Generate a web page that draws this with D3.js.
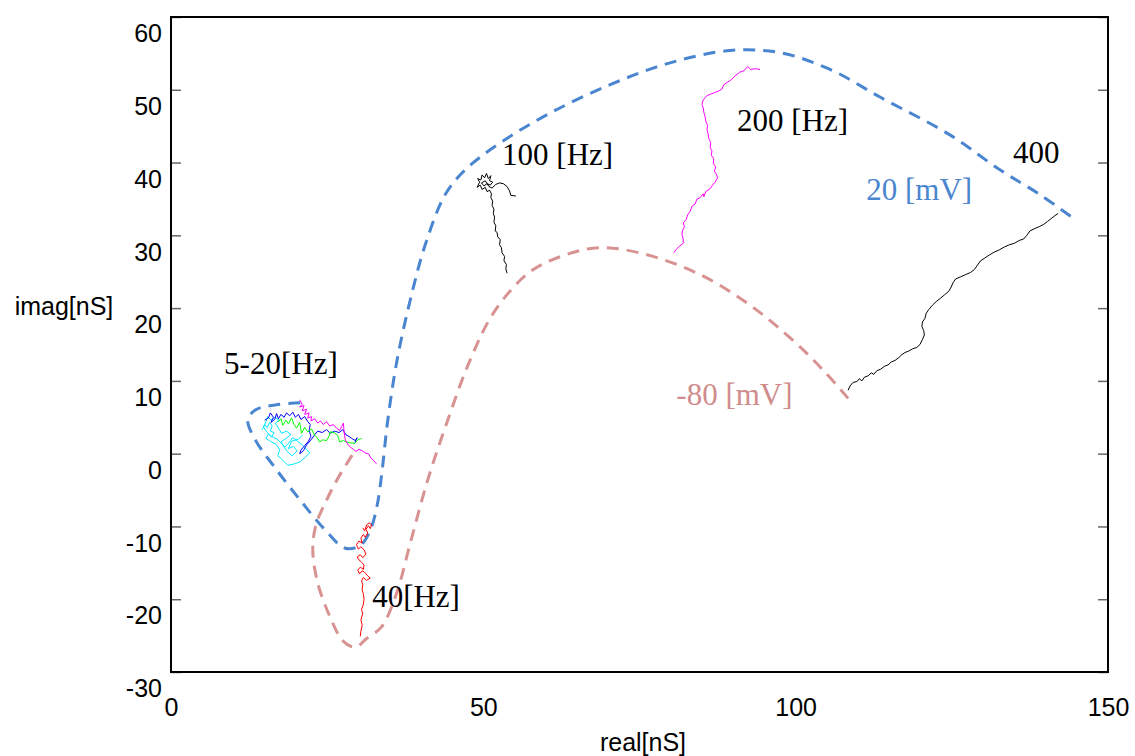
<!DOCTYPE html>
<html>
<head>
<meta charset="utf-8">
<script src="https://cdn.jsdelivr.net/npm/d3@7/dist/d3.min.js"></script>
<style>
  html, body { margin: 0; padding: 0; background: #fff; }
  svg { display: block; }
</style>
</head>
<body>
<svg id="chart" width="1135" height="756"></svg>
<script>
// Axis ticks
const xTicks = [0, 50, 100, 150];
const yTicks = [60, 50, 40, 30, 20, 10, 0, -10, -20, -30];

// Admittance loci (real, imag) in nS, dashed guide curves
const locus20mV = [
  [20.7, 7.0], [16.7, 6.7], [13.5, 6.0], [12.3, 4.6], [13.5, 1.9], [16.7, -2.0],
  [20.7, -6.4], [24.7, -10.5], [27.9, -13.0], [30.3, -12.6], [31.9, -10.5],
  [33.0, -7.1], [33.8, -2.3], [34.7, 4.6], [36.2, 12.9], [38.3, 21.1], [40.7, 28.7],
  [43.9, 35.6], [47.1, 39.0], [52.7, 42.7], [60.7, 46.8], [70.3, 50.7], [79.9, 53.7],
  [89.5, 55.4], [97.5, 55.1], [105.5, 52.8], [113.5, 49.0], [124.7, 43.8],
  [132.7, 39.0], [139.1, 35.6], [144.2, 32.5]
];
const locusMinus80mV = [
  [29.0, -0.2], [26.7, -3.4], [24.9, -6.4], [23.2, -9.8], [22.7, -13.3], [23.5, -17.8],
  [25.5, -22.5], [27.5, -25.7], [29.5, -26.6], [31.3, -25.4], [33.7, -23.8],
  [36.1, -19.2], [38.3, -12.3], [41.1, -3.6], [44.3, 4.6], [47.9, 12.9], [51.9, 19.7],
  [57.5, 25.0], [63.1, 27.3], [68.7, 28.3], [75.9, 27.4], [84.7, 24.6], [92.7, 20.4],
  [99.9, 15.3], [104.7, 11.2], [108.4, 7.6]
];

// Measured traces
const trace5to20Cyan = [
  [14.6, 3.3], [15.0, 4.0], [15.4, 3.6], [15.8, 4.3], [16.2, 3.8], [15.9, 3.1], [16.5, 2.9],
  [16.1, 2.3], [15.6, 2.7], [15.2, 2.1], [15.9, 1.7], [16.8, 1.3], [17.4, 0.6], [17.1, -0.3],
  [17.9, -0.9], [18.7, -1.6], [19.8, -1.4], [20.7, -1.1], [21.6, -0.4], [22.2, 0.1],
  [21.5, 0.8], [20.9, 1.3], [20.1, 1.8], [19.5, 2.2], [18.9, 1.5], [18.2, 0.9], [17.6, 1.6],
  [18.4, 2.1], [19.2, 2.6], [18.5, 3.1], [17.7, 2.8], [17.2, 3.5], [16.7, 4.2], [17.3, 4.6],
  [16.6, 5.0], [16.0, 4.6], [15.5, 5.1], [15.2, 4.4], [14.8, 3.7], [15.3, 3.0], [16.0, 2.4],
  [17.0, 2.0], [17.9, 1.2], [18.6, 0.3], [19.4, -0.3], [20.2, 0.4], [19.6, 1.0], [18.8, 0.7],
  [19.3, 1.7], [20.4, 2.0], [21.1, 2.6]
];
const trace5to20Blue = [
  [15.0, 4.6], [15.6, 4.9], [15.9, 5.6], [16.4, 5.0], [16.0, 4.3], [16.6, 4.7], [16.9, 5.5],
  [17.2, 4.8], [17.6, 5.4], [18.1, 5.0], [18.5, 5.6], [19.0, 5.2], [19.5, 5.7], [19.9, 5.0],
  [20.4, 5.4], [20.8, 4.7], [21.4, 5.1], [21.9, 4.4], [22.3, 4.0], [22.1, 3.2], [22.4, 2.4],
  [22.0, 1.7], [21.4, 1.1], [20.8, 0.5], [20.6, 0.0], [21.2, 0.4], [21.7, 1.2], [22.4, 1.9],
  [23.0, 2.6], [23.5, 3.1], [24.2, 2.9], [24.9, 3.3], [25.5, 2.8], [26.2, 3.1], [26.9, 2.9],
  [27.5, 3.3], [28.0, 2.6], [28.6, 2.3], [29.1, 2.0], [29.5, 1.8], [29.8, 2.2], [29.4, 1.4]
];
const trace5to20Green = [
  [17.2, 4.4], [17.6, 4.8], [17.9, 3.9], [18.4, 4.6], [18.8, 4.1], [19.3, 4.9], [19.7, 4.0],
  [20.1, 3.5], [20.6, 4.3], [20.9, 2.8], [21.4, 3.6], [21.9, 3.0], [22.5, 3.4], [23.0, 2.5],
  [23.4, 2.2], [23.8, 1.6], [24.3, 1.9], [24.9, 1.8], [25.3, 2.4], [25.5, 3.0], [26.1, 2.9],
  [26.7, 2.5], [27.0, 1.6], [27.6, 1.8], [28.1, 1.6], [28.7, 1.5], [29.4, 1.4], [29.9, 1.9],
  [30.5, 2.1]
];
const trace5to20Magenta = [
  [20.6, 7.4], [21.0, 6.8], [20.6, 6.4], [21.3, 6.6], [21.0, 5.9], [21.7, 6.1], [21.4, 5.4],
  [22.1, 5.6], [21.9, 4.9], [22.5, 5.1], [22.4, 4.5], [23.0, 4.8], [23.5, 4.2], [23.9, 4.5],
  [24.4, 4.0], [24.9, 4.4], [25.4, 3.8], [26.0, 4.0], [26.5, 3.5], [27.0, 3.2], [27.3, 3.7],
  [27.6, 4.2], [27.7, 3.0], [27.9, 1.9], [28.3, 1.3], [28.7, 0.9], [29.2, 0.6], [29.6, 0.3],
  [30.1, 0.6], [30.6, 0.4], [31.1, 0.1], [31.6, 0.0], [32.0, -0.6], [32.4, -0.9], [32.9, -1.4]
];
const trace40Hz = [
  [30.3, -25.1], [30.4, -24.4], [30.6, -23.6], [30.4, -22.8], [30.7, -22.0], [30.5, -21.4],
  [30.8, -20.7], [30.9, -20.0], [30.8, -19.3], [30.6, -18.7], [30.7, -18.0], [30.5, -17.5],
  [30.8, -17.0], [31.3, -17.4], [31.9, -17.1], [31.4, -16.7], [31.0, -16.3], [30.6, -16.1],
  [30.2, -16.5], [29.9, -16.0], [30.3, -15.6], [30.8, -15.9], [30.9, -15.3], [30.5, -14.9],
  [30.1, -14.6], [29.8, -14.2], [30.3, -13.9], [30.7, -14.3], [31.2, -13.8], [30.9, -13.2],
  [30.4, -12.8], [30.0, -13.1], [29.7, -12.5], [30.1, -12.0], [30.6, -12.3], [30.4, -11.6],
  [30.8, -11.1], [31.1, -11.5], [31.5, -10.9], [31.2, -10.4], [31.6, -9.9], [31.9, -10.3],
  [32.1, -9.8], [31.8, -9.5], [31.3, -9.8], [31.0, -10.6], [30.7, -10.2]
];
const trace100Hz = [
  [53.8, 24.8], [53.6, 25.4], [53.7, 26.0], [53.3, 26.5], [53.4, 27.1], [53.0, 27.6],
  [52.9, 28.3], [52.6, 28.7], [52.7, 29.4], [52.3, 29.8], [52.2, 30.4], [51.9, 30.6],
  [52.0, 31.3], [51.7, 31.8], [51.8, 32.5], [51.6, 33.0], [51.7, 33.6], [51.4, 34.1],
  [51.5, 34.7], [51.2, 35.2], [51.3, 35.7], [51.0, 36.2], [50.6, 36.0], [50.3, 36.6],
  [49.8, 36.3], [49.5, 36.9], [49.0, 36.6], [49.4, 37.3], [49.1, 37.8], [49.6, 37.6],
  [49.8, 38.3], [50.2, 37.9], [50.5, 38.5], [50.8, 37.8], [51.2, 38.2], [51.0, 37.5],
  [51.5, 37.3], [51.1, 36.9], [50.6, 37.1], [50.1, 36.8], [49.7, 37.2], [50.3, 37.5],
  [50.9, 36.7], [51.4, 36.5], [52.0, 37.0], [52.6, 37.2], [53.2, 37.1], [53.8, 36.7],
  [54.2, 36.1], [54.4, 35.5], [55.2, 35.4]
];
const trace200Hz = [
  [80.5, 27.6], [80.9, 28.1], [81.4, 28.5], [82.0, 28.9], [82.0, 29.5], [81.8, 30.1],
  [81.9, 30.7], [82.2, 31.2], [82.0, 31.7], [82.5, 32.2], [82.7, 32.8], [83.1, 33.3],
  [83.4, 34.0], [83.9, 34.3], [84.2, 35.0], [84.6, 35.1], [85.2, 35.7], [85.3, 35.3],
  [85.6, 36.0], [86.3, 36.4], [86.7, 36.9], [87.1, 37.3], [87.5, 37.9], [87.3, 38.4],
  [87.0, 38.8], [87.2, 39.4], [86.8, 39.9], [86.9, 40.5], [86.5, 41.0], [86.6, 41.6],
  [86.3, 42.1], [86.4, 42.7], [86.1, 43.3], [86.0, 43.9], [85.8, 44.5], [85.9, 45.1],
  [85.6, 45.7], [85.5, 46.3], [85.3, 46.9], [85.2, 47.5], [85.0, 48.0], [85.2, 48.6],
  [85.8, 49.2], [86.4, 49.4], [87.0, 49.6], [87.6, 49.8], [88.2, 50.1], [88.5, 50.7],
  [89.0, 51.0], [89.6, 51.3], [90.3, 51.9], [91.0, 52.4], [91.7, 52.6], [92.3, 53.2],
  [92.8, 52.8], [93.5, 52.9], [94.3, 52.8]
];
const trace400Hz = [
  [108.4, 8.7], [108.7, 9.3], [109.2, 9.8], [109.8, 9.9], [110.2, 10.3], [110.6, 10.0],
  [111.0, 10.5], [111.6, 10.7], [112.1, 11.1], [112.5, 10.9], [113.0, 11.4], [113.6, 11.6],
  [114.2, 12.0], [114.8, 12.2], [115.3, 12.6], [115.9, 12.8], [116.5, 13.2], [117.0, 13.6],
  [117.5, 13.9], [118.1, 14.1], [118.7, 14.4], [119.4, 14.6], [119.9, 15.0], [120.3, 15.7],
  [120.6, 16.3], [120.5, 16.9], [120.2, 17.5], [120.3, 18.1], [120.7, 18.6], [120.9, 19.3],
  [121.3, 19.8], [121.9, 20.4], [122.5, 20.9], [123.1, 21.3], [123.8, 21.8], [124.5, 22.3],
  [124.9, 22.9], [125.2, 23.5], [125.6, 24.0], [126.4, 24.3], [127.2, 24.6], [128.0, 24.9],
  [128.6, 25.3], [129.1, 25.9], [129.6, 26.5], [130.3, 26.9], [131.0, 27.3], [131.8, 27.7],
  [132.6, 28.0], [133.4, 28.4], [134.2, 28.7], [135.0, 28.9], [135.8, 29.3], [136.5, 29.5],
  [137.0, 30.0], [137.5, 30.6], [138.2, 30.9], [139.0, 31.2], [139.7, 31.5], [140.3, 31.9],
  [140.9, 32.3], [141.5, 32.7], [142.0, 33.0]
];

// Text annotations: [label, real, imag, colour]
const annotations = [
  ["100 [Hz]", 53.0, 39.7, "#000"],
  ["200 [Hz]", 90.6, 44.4, "#000"],
  ["400", 134.8, 40.0, "#000"],
  ["20 [mV]", 111.3, 34.9, "#4a86d0"],
  ["-80 [mV]", 80.9, 6.7, "#d08c8c"],
  ["5-20[Hz]", 8.5, 10.9, "#000"],
  ["40[Hz]", 32.2, -21.0, "#000"]
];

const svg = d3.select("#chart");
const margin = { left: 171, top: 17, right: 27, bottom: 84 };
const W = 1135 - margin.left - margin.right;
const H = 756 - margin.top - margin.bottom;

const x = d3.scaleLinear().domain([0, 150]).range([0, W]);
const y = d3.scaleLinear().domain([-30, 60]).range([H, 0]);

const plainNumber = d => String(d);
const g = svg.append("g").attr("transform", `translate(${margin.left},${margin.top})`);

// Y axis (left) with inward ticks; labels sit below their ticks
const yAxisL = g.append("g")
  .call(d3.axisLeft(y).tickValues(yTicks).tickFormat(plainNumber)
    .tickSizeInner(-10).tickSizeOuter(0).tickPadding(9));
yAxisL.select(".domain").remove();
yAxisL.selectAll(".tick line").attr("stroke", "#666").attr("stroke-width", 1.5);
yAxisL.selectAll(".tick text")
  .attr("font-family", "Liberation Sans, Arial, sans-serif")
  .attr("font-size", 25).attr("fill", "#000")
  .attr("dy", "0.35em")
  .attr("transform", "translate(0,16)");

// Y axis (right), ticks only
const yAxisR = g.append("g").attr("transform", `translate(${W},0)`)
  .call(d3.axisRight(y).tickValues(yTicks).tickSizeInner(-10).tickSizeOuter(0).tickFormat(""));
yAxisR.select(".domain").remove();
yAxisR.selectAll(".tick line").attr("stroke", "#666").attr("stroke-width", 1.5);

// X axis labels
const xAxis = g.append("g").attr("transform", `translate(0,${H})`)
  .call(d3.axisBottom(x).tickValues(xTicks).tickFormat(plainNumber).tickSize(0).tickPadding(26));
xAxis.select(".domain").remove();
xAxis.selectAll(".tick text")
  .attr("font-family", "Liberation Sans, Arial, sans-serif")
  .attr("font-size", 25).attr("fill", "#000");

// Frame
g.append("rect").attr("x", 0).attr("y", 0).attr("width", W).attr("height", H)
  .attr("fill", "none").attr("stroke", "#000").attr("stroke-width", 2);

// Axis titles
svg.append("text").attr("x", 64).attr("y", 306).attr("text-anchor", "middle")
  .attr("dominant-baseline", "central")
  .attr("font-family", "Liberation Sans, Arial, sans-serif").attr("font-size", 25)
  .text("imag[nS]");
svg.append("text").attr("x", 643).attr("y", 742).attr("text-anchor", "middle")
  .attr("dominant-baseline", "central")
  .attr("font-family", "Liberation Sans, Arial, sans-serif").attr("font-size", 25)
  .text("real[nS]");

const plot = g.append("g");

// Dashed loci
const smooth = d3.line().x(d => x(d[0])).y(d => y(d[1])).curve(d3.curveCatmullRom.alpha(0.5));
plot.append("path").datum(locusMinus80mV).attr("d", smooth)
  .attr("fill", "none").attr("stroke", "#d89292").attr("stroke-width", 3)
  .attr("stroke-dasharray", "12,8");
plot.append("path").datum(locus20mV).attr("d", smooth)
  .attr("fill", "none").attr("stroke", "#4a86d0").attr("stroke-width", 3)
  .attr("stroke-dasharray", "12,8");

// Measured traces
const raw = d3.line().x(d => x(d[0])).y(d => y(d[1]));
const traces = [
  [trace5to20Cyan, "#00e8ff"],
  [trace5to20Blue, "#0000ff"],
  [trace5to20Green, "#00ff00"],
  [trace5to20Magenta, "#ff00ff"],
  [trace40Hz, "#ff0000"],
  [trace100Hz, "#000000"],
  [trace200Hz, "#ff00ff"],
  [trace400Hz, "#000000"]
];
traces.forEach(([data, color]) => {
  plot.append("path").datum(data).attr("d", raw)
    .attr("fill", "none").attr("stroke", color).attr("stroke-width", 1)
    .attr("stroke-linejoin", "round");
});

// Annotations
plot.selectAll("text.note").data(annotations).join("text")
  .attr("class", "note")
  .attr("x", d => x(d[1])).attr("y", d => y(d[2]))
  .attr("font-family", "Liberation Serif, Times New Roman, serif")
  .attr("font-size", 31)
  .attr("fill", d => d[3])
  .text(d => d[0]);
</script>
</body>
</html>
